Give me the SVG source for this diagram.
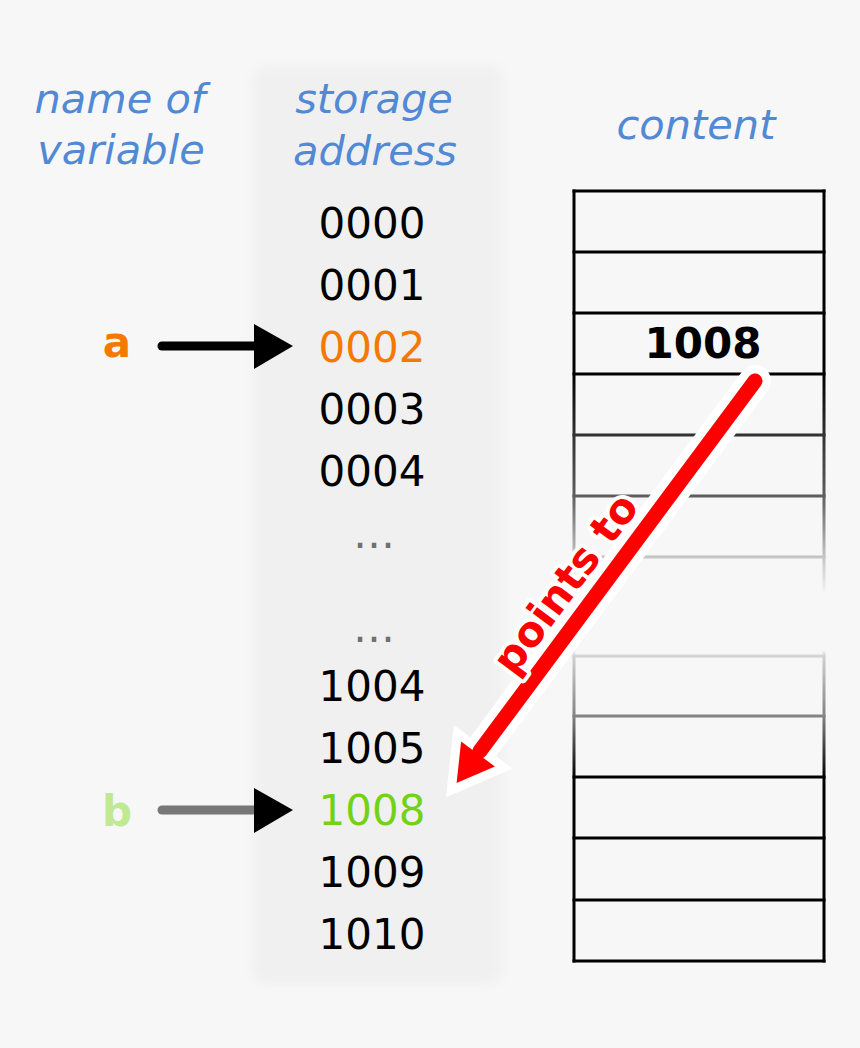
<svg xmlns="http://www.w3.org/2000/svg" width="860" height="1048" viewBox="0 0 860 1048">
  <style>
    .hdr { font-family: "DejaVu Sans", "Liberation Sans", sans-serif; font-style: italic; font-size: 41.5px; fill: #5289d4; text-anchor: middle; }
    .addr { font-family: "DejaVu Sans", "Liberation Sans", sans-serif; font-size: 42px; fill: #000; text-anchor: middle; }
    .dots { font-family: "DejaVu Sans", "Liberation Sans", sans-serif; font-size: 42px; fill: #707070; text-anchor: middle; }
    .var { font-family: "DejaVu Sans", "Liberation Sans", sans-serif; font-weight: bold; font-size: 42px; text-anchor: middle; }
    .cell { stroke: #000; stroke-width: 3; fill: none; stroke-linecap: square; }
    .ptr { stroke: #000; stroke-width: 9; stroke-linecap: round; fill: none; }
  </style>
  <defs>
    <filter id="soft" x="-10%" y="-5%" width="120%" height="110%">
      <feGaussianBlur stdDeviation="6"/>
    </filter>
    <marker id="head" markerUnits="userSpaceOnUse" markerWidth="40" markerHeight="46" refX="2" refY="22" orient="auto" overflow="visible">
      <path d="M0,0 L39,22 L0,45 Z" fill="#000"/>
    </marker>
    <linearGradient id="fadeGrad" gradientUnits="userSpaceOnUse" x1="0" y1="191" x2="0" y2="961">
      <stop offset="0.2377" stop-color="#fff" stop-opacity="1"/>
      <stop offset="0.3169" stop-color="#fff" stop-opacity="0.8"/>
      <stop offset="0.3961" stop-color="#fff" stop-opacity="0.62"/>
      <stop offset="0.4753" stop-color="#fff" stop-opacity="0.2"/>
      <stop offset="0.5247" stop-color="#fff" stop-opacity="0"/>
      <stop offset="0.5961" stop-color="#fff" stop-opacity="0"/>
      <stop offset="0.6039" stop-color="#fff" stop-opacity="0.15"/>
      <stop offset="0.6818" stop-color="#fff" stop-opacity="0.47"/>
      <stop offset="0.7610" stop-color="#fff" stop-opacity="1"/>
    </linearGradient>
    <mask id="fade" maskUnits="userSpaceOnUse" x="560" y="180" width="280" height="800">
      <rect x="560" y="180" width="280" height="800" fill="url(#fadeGrad)"/>
    </mask>
  </defs>

  <rect width="860" height="1048" fill="#f7f7f7"/>
  <rect x="253" y="66" width="250" height="918" rx="14" fill="#f0f0f0" filter="url(#soft)"/>

  <g id="header-name">
    <text class="hdr" x="120" y="113">name of</text>
    <text class="hdr" x="121" y="164">variable</text>
  </g>
  <g id="header-address">
    <text class="hdr" x="374" y="113">storage</text>
    <text class="hdr" x="375" y="165">address</text>
  </g>
  <g id="header-content">
    <text class="hdr" x="696" y="139">content</text>
  </g>

  <g id="addresses">
    <text class="addr" x="372" y="238">0000</text>
    <text class="addr" x="372" y="300">0001</text>
    <text class="addr" x="372" y="362" style="fill:#f57900">0002</text>
    <text class="addr" x="372" y="424">0003</text>
    <text class="addr" x="372" y="486">0004</text>
    <text class="dots" x="374" y="548">…</text>
    <text class="dots" x="374" y="642">…</text>
    <text class="addr" x="372" y="701">1004</text>
    <text class="addr" x="372" y="763">1005</text>
    <text class="addr" x="372" y="825" style="fill:#73d216">1008</text>
    <text class="addr" x="372" y="887">1009</text>
    <text class="addr" x="372" y="949">1010</text>
  </g>

  <g id="var-a">
    <text class="var" x="117" y="357" style="fill:#f57900">a</text>
  </g>
  <g id="var-b">
    <text class="var" x="117" y="826" style="fill:#bfe993">b</text>
  </g>

  <g id="memory" mask="url(#fade)">
    <line class="cell" x1="574" y1="191" x2="574" y2="961"/>
    <line class="cell" x1="824" y1="191" x2="824" y2="961"/>
    <line class="cell" x1="574" y1="191" x2="824" y2="191"/>
    <line class="cell" x1="574" y1="252" x2="824" y2="252"/>
    <line class="cell" x1="574" y1="313" x2="824" y2="313"/>
    <line class="cell" x1="574" y1="374" x2="824" y2="374"/>
    <line class="cell" x1="574" y1="435" x2="824" y2="435"/>
    <line class="cell" x1="574" y1="496" x2="824" y2="496"/>
    <line class="cell" x1="574" y1="557" x2="824" y2="557"/>
    <line class="cell" x1="574" y1="656" x2="824" y2="656"/>
    <line class="cell" x1="574" y1="716" x2="824" y2="716"/>
    <line class="cell" x1="574" y1="777" x2="824" y2="777"/>
    <line class="cell" x1="574" y1="838" x2="824" y2="838"/>
    <line class="cell" x1="574" y1="900" x2="824" y2="900"/>
    <line class="cell" x1="574" y1="961" x2="824" y2="961"/>
  </g>
  <g id="content-value">
    <text class="var" x="703" y="358" style="fill:#000">1008</text>
  </g>

  <g id="connectors">
    <line class="ptr" x1="162" y1="346" x2="256" y2="346" marker-end="url(#head)"/>
    <line class="ptr" x1="162" y1="810" x2="256" y2="810" style="stroke:#777" marker-end="url(#head)"/>
    <g id="pointer">
      <line x1="755" y1="381" x2="480" y2="751" stroke="#fff" stroke-width="32" stroke-linecap="round"/>
      <polygon points="456.6,782.9 461.1,741.5 494.9,766.5" fill="#fff" stroke="#fff" stroke-width="18" stroke-linejoin="miter" stroke-miterlimit="10"/>
      <line x1="755" y1="381" x2="480" y2="751" stroke="#ff0000" stroke-width="15" stroke-linecap="round"/>
      <polygon points="456.6,782.9 461.1,741.5 494.9,766.5" fill="#ff0000"/>
      <text x="577" y="592" transform="rotate(-53.4 577 592)" font-family="DejaVu Sans, Liberation Sans, sans-serif" font-weight="bold" font-size="42" fill="#ff0000" stroke="#fff" stroke-width="8" paint-order="stroke" stroke-linejoin="round" text-anchor="middle">points to</text>
    </g>
  </g>
</svg>
